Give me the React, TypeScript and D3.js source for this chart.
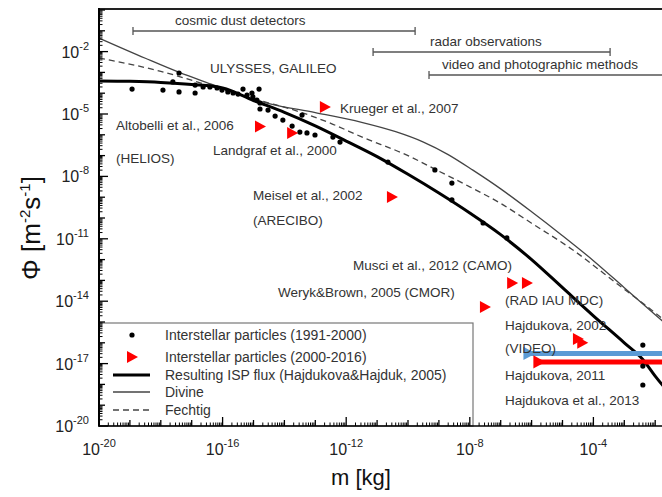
import React from 'react';
import * as d3 from 'd3';

// ---- data (log10 values) ----
const dotLogM = [-18.93, -17.93, -17.41, -17.61, -17.41, -16.89, -16.89, -16.63, -16.41, -16.18, -16.02, -15.83, -15.66, -15.5, -15.34, -15.21, -15.05, -15.02, -14.82, -14.89, -14.79, -14.79, -14.53, -14.3, -14.05, -13.75, -13.5, -13.27, -13.01, -13.43, -12.43, -12.2, -10.65, -9.13, -8.58, -8.58, -7.57, -6.8, -2.4, -2.4, -2.4];
const dotLogF = [-3.8, -3.85, -3.94, -3.46, -3.03, -3.61, -3.99, -3.7, -3.7, -3.75, -3.85, -3.94, -3.99, -4.04, -3.8, -4.09, -3.99, -4.18, -3.8, -4.33, -4.47, -4.76, -4.81, -5.1, -5.29, -5.58, -5.87, -5.91, -6.01, -5.05, -6.11, -6.35, -7.31, -7.69, -8.32, -9.13, -10.24, -10.96, -16.11, -17.12, -18.03];

const triLogM = [-12.69, -14.79, -13.75, -10.52, -7.51, -6.63, -6.15, -4.5, -4.36];
const triLogF = [-4.66, -5.6, -5.91, -8.99, -14.28, -13.13, -13.13, -15.82, -16.0];

const ispLogM = [-20, -19, -18, -17, -16, -15, -14, -13, -12, -11, -10, -9, -8, -7, -6, -5, -4, -3, -2.4, -2, -1];
const ispLogF = [-3.41, -3.43, -3.48, -3.58, -3.75, -4.35, -4.92, -5.57, -6.3, -7.05, -7.9, -8.8, -9.76, -10.8, -12.0, -13.35, -14.7, -16.0, -16.8, -17.6, -19.3];

const divineLogM = [-20, -18.5, -17.4, -16.3, -15.2, -14.5, -13, -11.5, -10.4, -9.5, -8.7, -7.9, -7, -6, -5, -4, -3, -2, -1];
const divineLogF = [-1.35, -2.32, -3.0, -3.6, -4.2, -4.5, -4.93, -5.4, -5.85, -6.35, -6.95, -7.7, -8.6, -9.7, -10.85, -12.05, -13.35, -14.65, -15.95];

const fechtigLogM = [-20, -18, -16.4, -14.8, -13.5, -12.5, -11.5, -10, -9, -8, -7, -6, -4.7, -3.2, -1.8, -1];
const fechtigLogF = [-2.31, -2.95, -3.65, -4.35, -4.9, -5.45, -6.1, -7.0, -7.75, -8.5, -9.3, -10.25, -11.5, -13.2, -14.8, -15.8];

// Hajdukova 2011 (blue) and 2013 (red) ranges: start mass, flux
const rangeLinesLogM = [-6.15, -5.83];
const rangeLinesLogF = [-16.51, -16.92];
const rangeLinesColor = ['#5b9bd5', '#ff0000'];

// method ranges (log mass)
const methodNames = ['cosmic dust detectors', 'radar observations', 'video and photographic methods'];
const methodFrom = [-18.9, -11.13, -9.32];
const methodTo = [-9.77, -3.46, 0];

const xTickLabels = [-20, -16, -12, -8, -4];
const yTickLabels = [-20, -17, -14, -11, -8, -5, -2];

const annotations: [string, number, number][] = [
  ['ULYSSES, GALILEO', 210, 73],
  ['Krueger et al., 2007', 340, 113],
  ['Altobelli et al., 2006', 116, 130],
  ['(HELIOS)', 116, 163],
  ['Landgraf et al., 2000', 213, 155],
  ['Meisel et al., 2002', 253, 200],
  ['(ARECIBO)', 253, 225],
  ['Musci et al., 2012 (CAMO)', 353, 270],
  ['Weryk&Brown, 2005 (CMOR)', 278, 297],
  ['(RAD IAU MDC)', 505, 305],
  ['Hajdukova, 2002', 505, 330],
  ['(VIDEO)', 505, 353],
  ['Hajdukova, 2011', 505, 380],
  ['Hajdukova et al., 2013', 505, 405],
];
const methodLabelPos: [number, number, number][] = [
  [175, 25, 31],
  [430, 46, 52],
  [442, 69, 75],
];

const FONT = '"Liberation Sans", Arial, Helvetica, sans-serif';

export default function App() {
  const W = 662, H = 497;
  const left = 99, bottom = 426, top = 9;
  const x = d3.scaleLog().domain([1e-20, 1]).range([left, left + 20 * 30.9]);
  const y = d3.scaleLog().domain([1e-20, 1]).range([bottom, 10]);
  const px = (e: number) => x(Math.pow(10, e));
  const py = (e: number) => y(Math.pow(10, e));
  const line = d3.line<[number, number]>().x(d => px(d[0])).y(d => py(d[1])).curve(d3.curveMonotoneX);
  const zip = (a: number[], b: number[]) => a.map((v, i) => [v, b[i]] as [number, number]);

  const tri = 'M -5 -6 L 6 0 L -5 6 Z';

  const yTicks: JSX.Element[] = [];
  for (let d = -20; d <= 0; d++) {
    const labeled = yTickLabels.includes(d);
    const yy = py(d);
    yTicks.push(<line key={'yd' + d} x1={left} x2={left + (labeled ? 9 : 6)} y1={yy} y2={yy} stroke="#000" strokeWidth={1.3} />);
    if (d < 0) for (let k = 2; k <= 9; k++) {
      const v = y(k * Math.pow(10, d));
      yTicks.push(<line key={'ym' + d + '_' + k} x1={left} x2={left + 3.5} y1={v} y2={v} stroke="#000" strokeWidth={1} />);
    }
  }
  const xTicks: JSX.Element[] = [];
  for (let d = -20; d <= 0; d++) {
    const labeled = xTickLabels.includes(d);
    const xx = px(d);
    if (xx > W) break;
    xTicks.push(<line key={'xd' + d} x1={xx} x2={xx} y1={bottom} y2={bottom - (labeled ? 9 : 6)} stroke="#000" strokeWidth={1.3} />);
    for (let k = 2; k <= 9; k++) {
      const v = x(k * Math.pow(10, d));
      if (v > W) break;
      xTicks.push(<line key={'xm' + d + '_' + k} x1={v} x2={v} y1={bottom} y2={bottom - 3.5} stroke="#000" strokeWidth={1} />);
    }
  }

  const legendItems = [
    'Interstellar particles (1991-2000)',
    'Interstellar particles (2000-2016)',
    'Resulting ISP flux (Hajdukova&Hajduk, 2005)',
    'Divine',
    'Fechtig',
  ];
  const legendY = [335, 357, 375, 392, 410];

  return (
    <svg width={W} height={H} style={{ position: 'absolute', left: 0, top: 0, background: '#fff' }} fontFamily={FONT}>
      <rect x={0} y={0} width={W} height={H} fill="#fff" />
      <path d={line(zip(divineLogM, divineLogF)) || ''} fill="none" stroke="#444" strokeWidth={1.3} />
      <path d={line(zip(fechtigLogM, fechtigLogF)) || ''} fill="none" stroke="#444" strokeWidth={1.3} strokeDasharray="6,4" />
      <path d={line(zip(ispLogM, ispLogF)) || ''} fill="none" stroke="#000" strokeWidth={3} />

      {rangeLinesLogM.map((m, i) => (
        <g key={'rl' + i}>
          <line x1={px(m)} x2={W + 20} y1={py(rangeLinesLogF[i])} y2={py(rangeLinesLogF[i])} stroke={rangeLinesColor[i]} strokeWidth={5} />
          <path d={tri} transform={`translate(${px(m) + 2},${py(rangeLinesLogF[i])}) scale(1.1)`} fill={rangeLinesColor[i]} />
        </g>
      ))}

      {dotLogM.map((m, i) => (
        <circle key={'d' + i} cx={px(m)} cy={py(dotLogF[i])} r={2.6} fill="#000" />
      ))}
      {triLogM.map((m, i) => (
        <path key={'t' + i} d={tri} transform={`translate(${px(m)},${py(triLogF[i])})`} fill="#ff0000" />
      ))}

      {methodNames.map((n, i) => {
        const [tx, ty, ly] = methodLabelPos[i];
        const x1 = px(methodFrom[i]), x2 = px(methodTo[i]);
        return (
          <g key={'mr' + i}>
            <line x1={x1} x2={x2} y1={ly} y2={ly} stroke="#555" strokeWidth={1.3} />
            <line x1={x1} x2={x1} y1={ly - 4} y2={ly + 4} stroke="#555" strokeWidth={1.3} />
            <line x1={x2} x2={x2} y1={ly - 4} y2={ly + 4} stroke="#555" strokeWidth={1.3} />
            <text x={tx} y={ty} fontSize={13.5} fill="#333">{n}</text>
          </g>
        );
      })}

      {annotations.map(([t, ax, ay], i) => (
        <text key={'a' + i} x={ax} y={ay} fontSize={13.5} fill="#333">{t}</text>
      ))}

      <rect x={left} y={323} width={473 - left} height={bottom - 323} fill="#fff" stroke="#777" strokeWidth={1.2} />
      <circle cx={132} cy={legendY[0]} r={2.6} fill="#000" />
      <path d={tri} transform={`translate(132,${legendY[1]})`} fill="#ff0000" />
      <line x1={113} x2={150} y1={legendY[2]} y2={legendY[2]} stroke="#000" strokeWidth={3} />
      <line x1={113} x2={150} y1={legendY[3]} y2={legendY[3]} stroke="#444" strokeWidth={1.3} />
      <line x1={113} x2={150} y1={legendY[4]} y2={legendY[4]} stroke="#444" strokeWidth={1.3} strokeDasharray="6,4" />
      {legendItems.map((t, i) => (
        <text key={'l' + i} x={165} y={legendY[i] + 5} fontSize={14} fill="#333">{t}</text>
      ))}

      <line x1={left} x2={W} y1={top} y2={top} stroke="#222" strokeWidth={2} />
      <line x1={left} x2={W} y1={bottom} y2={bottom} stroke="#000" strokeWidth={1.5} />
      <line x1={left} x2={left} y1={top - 1} y2={bottom + 0.75} stroke="#000" strokeWidth={2} />
      {yTicks}
      {xTicks}

      {yTickLabels.map(d => (
        <text key={'yl' + d} x={89} y={py(d) + 6} textAnchor="end" fontSize={16} fill="#222">
          10<tspan dy={-8} fontSize={11}>{String(d)}</tspan>
        </text>
      ))}
      {xTickLabels.map(d => (
        <text key={'xl' + d} x={px(d)} y={455} textAnchor="middle" fontSize={16} fill="#222">
          10<tspan dy={-8} fontSize={11}>{String(d)}</tspan>
        </text>
      ))}

      <text x={W / 2 + 30} y={485} textAnchor="middle" fontSize={22} fill="#111">m [kg]</text>
      <text transform="translate(40,228) rotate(-90)" textAnchor="middle" fontSize={26} fill="#111">
        Φ [m<tspan dy={-10} fontSize={15}>-2</tspan><tspan dy={10}>s</tspan><tspan dy={-10} fontSize={15}>-1</tspan><tspan dy={10}>]</tspan>
      </text>
    </svg>
  );
}
